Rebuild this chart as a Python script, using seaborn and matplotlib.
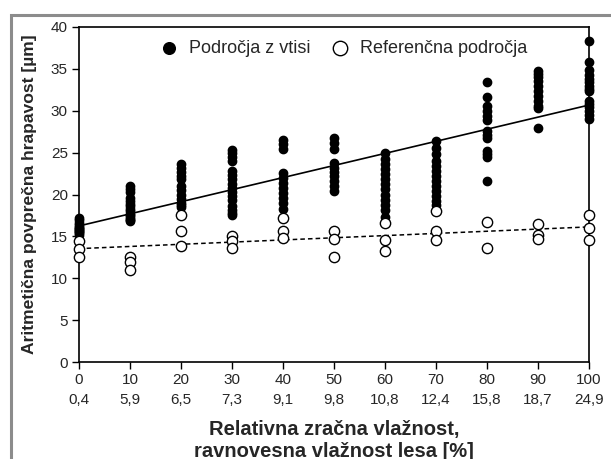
import matplotlib
matplotlib.use("Agg")
import matplotlib.pyplot as plt
import seaborn as sns
import pandas as pd
import numpy as np
from matplotlib.patches import Rectangle

sns.set_style("white")
plt.rcParams['font.family'] = ['Liberation Sans', 'DejaVu Sans']

# relative humidity steps and matching equilibrium wood moisture
rh = [0, 10, 20, 30, 40, 50, 60, 70, 80, 90, 100]
emc = ["0,4", "5,9", "6,5", "7,3", "9,1", "9,8", "10,8", "12,4", "15,8", "18,7", "24,9"]

# Ra values of the areas with impressions, one list per humidity step
vtisi = [
    [17.2, 16.9, 16.6, 16.3, 16.1, 16.0, 15.9, 15.8, 15.6, 15.5, 15.4, 15.2],
    [21.0, 20.7, 20.3, 19.6, 19.2, 18.9, 18.6, 18.3, 18.0, 17.7, 17.5, 17.3,
     17.1, 17.0, 16.8],
    [23.6, 23.2, 22.7, 22.2, 21.8, 21.0, 20.5, 20.0, 19.5, 19.0, 18.7, 18.5],
    [25.3, 24.9, 24.5, 24.0, 22.8, 22.3, 21.8, 21.3, 20.8, 20.3, 19.8, 19.3,
     18.6, 18.1, 17.8, 17.6],
    [26.5, 26.0, 25.4, 22.6, 22.0, 21.4, 20.8, 20.2, 19.6, 19.0, 18.3],
    [26.8, 26.2, 25.4, 23.8, 23.2, 22.7, 22.2, 21.6, 21.0, 20.4],
    [25.0, 24.2, 23.6, 23.0, 22.4, 21.8, 21.2, 20.6, 20.0, 19.4, 18.8, 18.2, 17.3],
    [26.4, 25.5, 24.8, 24.0, 23.4, 22.8, 22.2, 21.6, 21.0, 20.4, 19.8, 19.2, 18.7],
    [33.4, 31.6, 30.6, 30.0, 29.4, 28.9, 27.6, 27.1, 26.8, 25.2, 24.8, 24.5, 21.6],
    [34.7, 34.4, 34.0, 33.6, 33.0, 32.4, 31.8, 31.2, 30.6, 30.3, 27.9],
    [38.3, 35.8, 34.9, 34.3, 33.8, 33.4, 33.0, 32.6, 32.3, 31.2, 30.8, 30.4,
     30.0, 29.5, 29.0],
]

# Ra values of the reference areas
referenca = [
    [14.5, 13.5, 12.5],
    [12.5, 12.0, 11.0],
    [17.5, 15.6, 13.9],
    [15.0, 14.4, 13.6],
    [17.2, 15.6, 14.8],
    [15.6, 14.7, 12.5],
    [16.6, 14.6, 13.3],
    [18.0, 15.6, 14.6],
    [16.7, 13.6],
    [16.5, 15.2, 14.7],
    [17.5, 16.0, 14.6],
]


def to_long(groups):
    rows = []
    for x, vals in zip(rh, groups):
        for v in vals:
            rows.append((x, v))
    return pd.DataFrame(rows, columns=["rh", "ra"])


def main():
    df_v = to_long(vtisi)
    df_r = to_long(referenca)

    fig = plt.figure(figsize=(6.11, 4.59), dpi=100)
    ax = fig.add_axes([79 / 611, 1 - 362 / 459, 510 / 611, 335 / 459])

    # outer grey frame (cut off at right and bottom like the source)
    fig.patches.append(Rectangle((11 / 611, -0.2), 1.2, 1 - 15 / 459 + 0.2,
                                 transform=fig.transFigure, fill=False,
                                 edgecolor="#8c8c8c", linewidth=2.2, zorder=0))

    sns.regplot(data=df_v, x="rh", y="ra", scatter=False, ci=None, ax=ax,
                line_kws=dict(color="black", lw=1.2))
    sns.regplot(data=df_r, x="rh", y="ra", scatter=False, ci=None, ax=ax,
                line_kws=dict(color="black", lw=1.1, ls=(0, (3, 2))))

    ax.scatter(df_v["rh"], df_v["ra"], s=36, color="black", zorder=3,
               label="Področja z vtisi", clip_on=False)
    ax.scatter(df_r["rh"], df_r["ra"], s=55, facecolor="white", edgecolor="black",
               linewidth=1.0, zorder=3, label="Referenčna področja", clip_on=False)

    ax.set_xlim(0, 100)
    ax.set_ylim(0, 40)
    ax.set_xticks(rh)
    ax.set_xticklabels([f"{a}\n{b}" for a, b in zip(rh, emc)], fontsize=11,
                       linespacing=1.5)
    ax.set_yticks(range(0, 41, 5))
    ax.tick_params(axis="both", direction="out", length=5, width=1, color="black",
                   labelsize=11, left=True, bottom=True, pad=3)

    for s in ax.spines.values():
        s.set_color("black")
        s.set_linewidth(1.2)

    ax.set_xlabel("Relativna zračna vlažnost,\nravnovesna vlažnost lesa [%]",
                  fontsize=14.5, fontweight="bold", labelpad=10, linespacing=1.15)
    ax.set_ylabel("Aritmetična povprečna hrapavost [µm]", fontsize=12.6,
                  fontweight="bold", labelpad=10)

    ax.legend(loc="upper center", ncol=2, frameon=False, fontsize=13,
              bbox_to_anchor=(0.51, 1.0), handletextpad=0.1, columnspacing=0.6,
              markerscale=1.4, borderaxespad=0.3)

    fig.savefig("out.png", dpi=100)


if __name__ == "__main__":
    main()
